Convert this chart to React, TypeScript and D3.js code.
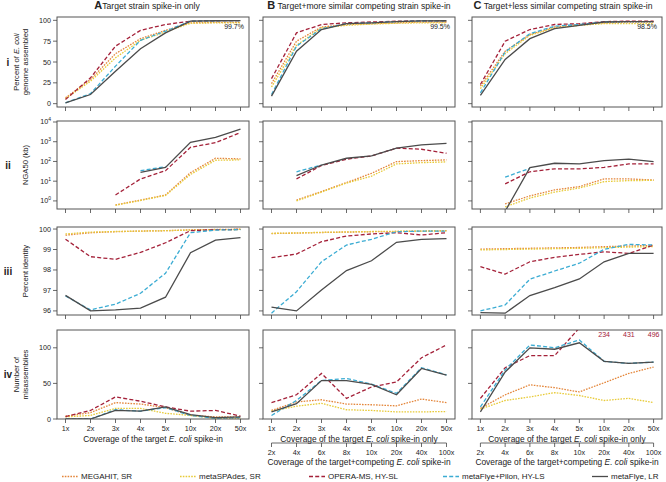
import React from "react";
import * as d3 from "d3";

const coverageTarget = ["1x", "2x", "3x", "4x", "5x", "10x", "20x", "50x"];
const coverageCompeting = ["2x", "4x", "6x", "8x", "10x", "20x", "40x", "100x"];
const methods = ["MEGAHIT, SR", "metaSPAdes, SR", "OPERA-MS, HY-SL", "metaFlye+Pilon, HY-LS", "metaFlye, LR"];
const columnTitles = ["Target strain spike-in only", "Target+more similar competing strain spike-in", "Target+less similar competing strain spike-in"];
const columnLetters = ["A", "B", "C"];
const rowLabels = ["i", "ii", "iii", "iv"];
const genomeNotes = ["99.7%", "99.5%", "98.5%"];
const misassemblyNotes = ["234", "431", "496"];

type S = (number | null)[];
// Row i: percent genome assembled (order: MEGAHIT, metaSPAdes, OPERA-MS, metaFlye+Pilon, metaFlye)
const genomeA: S[] = [
  [7, 29, 60, 78, 88, 97, 97.5, 97.5],
  [6, 27, 55, 76, 86, 96.5, 97, 97],
  [5, 31, 69, 88, 95, 99, 99.5, 99.7],
  [1, 12, 45, 76, 87, 99, 99.5, 99.7],
  [1, 11, 39, 66, 85, 99, 99.5, 99.7],
];
const genomeB: S[] = [
  [24, 75, 92, 95, 96, 97, 98, 98],
  [20, 70, 91, 94, 95.5, 96.5, 97, 97],
  [30, 85, 95, 97, 98, 99, 99.5, 99.5],
  [11, 69, 90, 96, 97, 98.5, 99.3, 99.5],
  [9, 63, 89, 96, 97, 98.5, 99.3, 99.5],
];
const genomeC: S[] = [
  [21, 63, 83, 92, 95, 97, 98, 98],
  [18, 60, 82, 91, 94, 96, 96, 96],
  [23, 75, 89, 95, 96, 98.5, 99, 99],
  [13, 62, 84, 93, 95, 98, 98.5, 98.5],
  [10, 53, 78, 90, 94, 98, 98.5, 98.5],
];
// Row ii: NGA50 (kb)
const ngaA: S[] = [
  [null, null, 0.63, 1.1, 2, 27, 145, 135],
  [null, null, 0.6, 1.05, 1.9, 22, 115, 120],
  [null, null, 2, 13, 34, 520, 900, 2900],
  [null, null, null, 34, 55, null, null, null],
  [null, null, null, 28, 50, 940, 1670, 4400],
];
const ngaB: S[] = [
  [null, 1.1, 3, 8.5, 25, 98, 110, 120],
  [null, 1.0, 2.8, 8, 18, 75, 87, 95],
  [null, 13, 62, 130, 190, 470, 415, 260],
  [null, 30, 66, null, null, null, null, null],
  [null, 19, 66, 145, 190, 470, 690, 830],
];
const ngaC: S[] = [
  [null, 0.7, 1.8, 3.6, 5.3, 13, 13, 11.5],
  [null, 0.5, 1.4, 2.8, 4.5, 9.5, 10.7, 11],
  [null, 7.3, 30, 42, 42, 50, 75, 75],
  [null, 16, 45, null, null, null, null, null],
  [null, 0.3, 49, 81, 75, 110, 130, 98],
];
// Row iii: percent identity
const identA: S[] = [
  [99.7, 99.82, 99.87, 99.9, 99.92, 99.96, 99.98, 99.99],
  [99.76, 99.85, 99.88, 99.9, 99.92, 99.95, 99.97, 99.98],
  [99.5, 98.65, 98.52, 98.86, 99.33, 99.92, 99.97, 99.98],
  [96.73, 96.05, 96.33, 96.86, 97.84, 99.82, 99.95, 99.97],
  [96.76, 96.0, 96.05, 96.14, 96.67, 98.84, 99.46, 99.58],
];
const identB: S[] = [
  [99.78, 99.8, 99.83, 99.85, 99.87, 99.88, 99.9, 99.92],
  [99.79, 99.81, 99.84, 99.86, 99.88, 99.89, 99.9, 99.91],
  [98.6, 98.78, 99.38, 99.66, 99.76, 99.82, 99.71, 99.82],
  [95.89, 96.94, 98.4, 99.22, 99.5, 99.87, 99.9, 99.9],
  [96.18, 96.0, 97.02, 97.97, 98.45, 99.35, 99.5, 99.53],
];
const identC: S[] = [
  [99.02, 99.04, 99.06, 99.08, 99.1, 99.14, 99.17, 99.2],
  [98.98, 99.0, 99.02, 99.04, 99.06, 99.09, 99.12, 99.14],
  [98.16, 97.8, 98.4, 98.62, 98.76, 98.89, 98.81, 99.22],
  [96.0, 96.29, 97.55, 97.95, 98.33, 99.01, 99.25, 99.22],
  [95.92, 95.89, 96.75, 97.14, 97.56, 98.4, 98.81, 98.81],
];
// Row iv: number of misassemblies
const misA: S[] = [
  [4, 9, 23, 21, 16, 5, 3, 3],
  [3, 5, 15, 15, 8, 5, 1, 1],
  [3.5, 12, 31, 25, 17, 11, 12, 4],
  [0, 0, 13, 11, 16, 5, 1, 2],
  [0, 0, 12, 11, 17, 6, 2, 3],
];
const misB: S[] = [
  [12, 24, 27, 21, 20, 18.5, 28, 23],
  [11, 18, 22, 13, 12, 10, 10, 10.5],
  [23, 34, 64, 29, 45, 52, 86, 104],
  [5, 26, 54, 57, 49, 36, 72, 62],
  [10, 21.5, 54, 54, 48.5, 34, 71, 61.5],
];
const misC: S[] = [
  [15, 34, 48, 44, 38, 51, 64, 73],
  [14, 26, 31, 37, 33, 26, 29, 23],
  [29, 72, 89, 89, 128, 234, 431, 496],
  [17, 69, 104, 100, 111, 81, 78, 80],
  [10, 66, 100, 98, 107, 81, 78, 80],
];

const genomeTicks = [0, 25, 50, 75, 100];
const ngaTicks = [0, 1, 2, 3, 4];
const identTicks = [96, 97, 98, 99, 100];
const misTicks = [0, 50, 100];

const colors = ["#E4873C", "#E8CB3A", "#A42139", "#3BACD3", "#4B4B4B"];
const dashes = ["1.6,1.2", "1.6,1.2", "4,2.2", "4,2.2", null];
const FONT = "'Liberation Sans', Arial, Helvetica, sans-serif";

const colX = [
  [57, 249],
  [263, 455],
  [472, 662],
];
const rowY = [
  [17, 107],
  [121, 209],
  [227, 315],
  [330, 419],
];

export default function App() {
  const rows = [
    { data: [genomeA, genomeB, genomeC], log: false, domain: [-4, 104] },
    { data: [ngaA, ngaB, ngaC], log: true, domain: [Math.pow(10, -0.41), Math.pow(10, 4.05)] },
    { data: [identA, identB, identC], log: false, domain: [95.8, 100.1] },
    { data: [misA, misB, misC], log: false, domain: [0, 125] },
  ];
  const frame = "#555";
  const tickC = "#444";
  const textC = "#222";

  const panels: React.ReactNode[] = [];
  rows.forEach((row, ri) => {
    const [y0, y1] = rowY[ri];
    const y = row.log
      ? d3.scaleLog().domain(row.domain).range([y1, y0])
      : d3.scaleLinear().domain(row.domain).range([y1, y0]);
    [0, 1, 2].forEach((ci) => {
      const [x0, x1] = colX[ci];
      const x = d3.scaleLinear().domain([-0.34, coverageTarget.length - 1 + 0.34]).range([x0, x1]);
      const clipId = `clip-${ri}-${ci}`;
      const series = row.data[ci];
      const line = d3
        .line<number | null>()
        .defined((d) => d !== null)
        .x((_, i) => x(i))
        .y((d) => y(d as number));
      panels.push(
        <g key={`p${ri}${ci}`}>
          <clipPath id={clipId}>
            <rect x={x0} y={y0} width={x1 - x0} height={y1 - y0} />
          </clipPath>
          <g clipPath={`url(#${clipId})`}>
            {series.map((s, si) => (
              <path
                key={si}
                d={line(s) || ""}
                fill="none"
                stroke={colors[si]}
                strokeWidth={1.3}
                strokeDasharray={dashes[si] || undefined}
              />
            ))}
          </g>
          <rect x={x0} y={y0} width={x1 - x0} height={y1 - y0} fill="none" stroke={frame} strokeWidth={1} />
          {coverageTarget.map((c, i) => (
            <line key={c} x1={x(i)} x2={x(i)} y1={y1} y2={y1 + 4} stroke={tickC} strokeWidth={0.8} />
          ))}
          {ri === 3 &&
            coverageTarget.map((c, i) => (
              <text key={"l" + c} x={x(i)} y={y1 + 12} fontSize={7.2} textAnchor="middle" fill={textC} fontFamily={FONT}>
                {c}
              </text>
            ))}
          {(ri === 0 ? genomeTicks : ri === 1 ? ngaTicks : ri === 2 ? identTicks : misTicks).map((t) => {
            const v = ri === 1 ? Math.pow(10, t) : t;
            const yy = y(v);
            return (
              <g key={"y" + t}>
                <line x1={x0 - 4} x2={x0} y1={yy} y2={yy} stroke={tickC} strokeWidth={0.8} />
                {ci === 0 && (
                  <text x={x0 - 6} y={yy + 2.5} fontSize={7.2} textAnchor="end" fill={textC} fontFamily={FONT}>
                    {ri === 1 ? (
                      <>
                        10
                        <tspan dy={-3} fontSize={5}>
                          {t}
                        </tspan>
                      </>
                    ) : (
                      t
                    )}
                  </text>
                )}
              </g>
            );
          })}
          {ri === 0 && (
            <text x={x1 - 5} y={y0 + 12} fontSize={7} textAnchor="end" fill={textC} fontFamily={FONT}>
              {genomeNotes[ci]}
            </text>
          )}
          {ri === 3 &&
            ci === 2 &&
            misassemblyNotes.map((n, k) => (
              <text key={n} x={x(5 + k)} y={y0 + 7} fontSize={7} textAnchor="middle" fill={colors[2]} fontFamily={FONT}>
                {n}
              </text>
            ))}
          {ri === 3 && (
            <text x={(x(0) + x(7)) / 2} y={y1 + 22.5} fontSize={8.4} textAnchor="middle" fill={textC} fontFamily={FONT}>
              {"Coverage of the target "}
              <tspan fontStyle="italic">E. coli</tspan>
              {ci === 0 ? " spike-in" : " spike-in only"}
            </text>
          )}
          {ri === 3 && ci > 0 && (
            <g>
              <line x1={x(0)} x2={x(7)} y1={443} y2={443} stroke={tickC} strokeWidth={0.8} />
              {coverageCompeting.map((c, i) => (
                <g key={"s" + c}>
                  <line x1={x(i)} x2={x(i)} y1={443} y2={447} stroke={tickC} strokeWidth={0.8} />
                  <text x={x(i)} y={454.5} fontSize={7.2} textAnchor="middle" fill={textC} fontFamily={FONT}>
                    {c}
                  </text>
                </g>
              ))}
              <text x={(x(0) + x(7)) / 2} y={465} fontSize={8.4} textAnchor="middle" fill={textC} fontFamily={FONT}>
                Coverage of the target+competing <tspan fontStyle="italic">E. coli</tspan> spike-in
              </text>
            </g>
          )}
        </g>
      );
    });
  });

  const legendX = [62, 180, 309, 443, 592];
  const rowMid = rowY.map(([a, b]) => (a + b) / 2);

  return (
    <svg width={666} height={482} style={{ position: "absolute", left: 0, top: 0, background: "#fff" }} fontFamily={FONT}>
      <rect width={666} height={482} fill="#fff" />
      {columnTitles.map((t, ci) => {
        const cx = (colX[ci][0] + colX[ci][1]) / 2 - (ci === 0 ? 6 : ci === 2 ? 4 : 0);
        return (
          <text key={t} x={cx} y={9} fontSize={8.6} textAnchor="middle" fill={textC}>
            <tspan fontWeight="bold" fontSize={11}>
              {columnLetters[ci]}
            </tspan>
            {(ci === 0 ? "" : " ") + t}
          </text>
        );
      })}
      {rowLabels.map((r, ri) => (
        <text key={r} x={8} y={rowMid[ri] + 3.5} fontSize={10} fontWeight="bold" textAnchor="middle" fill={textC}>
          {r}
        </text>
      ))}
      <g fontSize={7.6} fill={textC}>
        <text transform={`translate(19,${rowMid[0]}) rotate(-90)`} textAnchor="middle">
          Percent of <tspan fontStyle="italic">E. coli</tspan>
        </text>
        <text transform={`translate(28,${rowMid[0]}) rotate(-90)`} textAnchor="middle">
          genome assembled
        </text>
        <text transform={`translate(28,${rowMid[1]}) rotate(-90)`} textAnchor="middle">
          NGA50 (kb)
        </text>
        <text transform={`translate(28,${rowMid[2]}) rotate(-90)`} textAnchor="middle">
          Percent identity
        </text>
        <text transform={`translate(19,${rowMid[3]}) rotate(-90)`} textAnchor="middle">
          Number of
        </text>
        <text transform={`translate(28,${rowMid[3]}) rotate(-90)`} textAnchor="middle">
          misassemblies
        </text>
      </g>
      {panels}
      {methods.map((m, i) => (
        <g key={m}>
          <line
            x1={legendX[i]}
            x2={legendX[i] + 16}
            y1={476.5}
            y2={476.5}
            stroke={colors[i]}
            strokeWidth={1.3}
            strokeDasharray={dashes[i] || undefined}
          />
          <text x={legendX[i] + 19} y={479.3} fontSize={8} fill={textC}>
            {m}
          </text>
        </g>
      ))}
    </svg>
  );
}
